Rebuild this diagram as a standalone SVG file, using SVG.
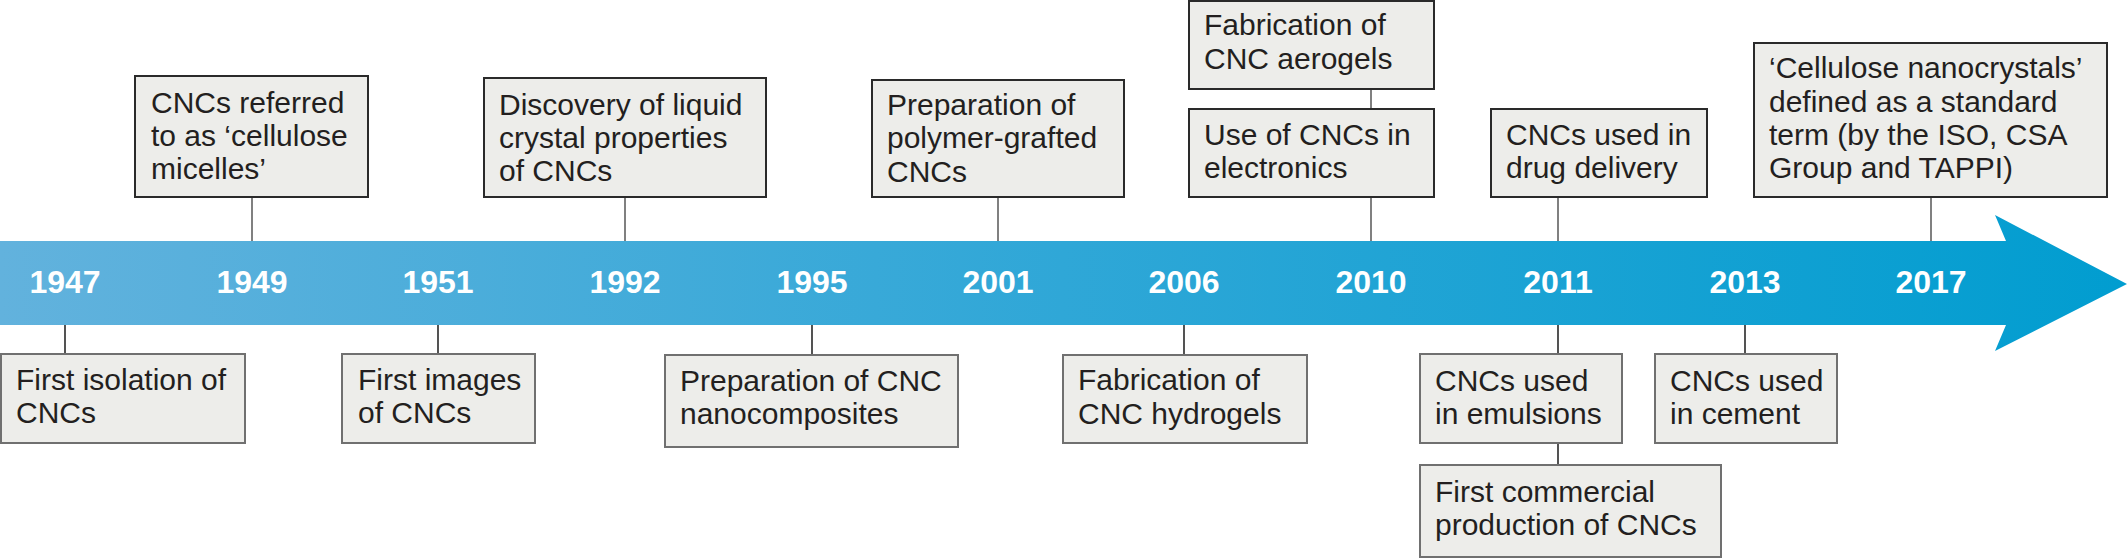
<svg xmlns="http://www.w3.org/2000/svg" width="2127" height="559" viewBox="0 0 2127 559">
<style>
.bt{fill:#ededea;stroke:#2a2a2a;stroke-width:2}
.bb{fill:#ededea;stroke:#707070;stroke-width:2}
.ct{stroke:#808080;stroke-width:2;fill:none}
.cb{stroke:#2a2a2a;stroke-width:1.6;fill:none}
.t{font-family:"Liberation Sans",Arial,sans-serif;font-size:30px;fill:#231f20}
.y{font-family:"Liberation Sans",Arial,sans-serif;font-size:32px;font-weight:bold;fill:#ffffff;text-anchor:middle}
</style>
<defs>
<linearGradient id="g" gradientUnits="userSpaceOnUse" x1="0" y1="0" x2="2127" y2="0">
<stop offset="0" stop-color="#62b2dd"/>
<stop offset="0.5" stop-color="#2fa7d7"/>
<stop offset="1" stop-color="#019dd0"/>
</linearGradient>
</defs>
<g id="timeline-arrow">
<path d="M0,241 H2006 L1995,215 L2127,284 L1995,351 L2006,325 H0 Z" fill="url(#g)"/>
<text class="y" x="65" y="293">1947</text>
<text class="y" x="252" y="293">1949</text>
<text class="y" x="438" y="293">1951</text>
<text class="y" x="625" y="293">1992</text>
<text class="y" x="812" y="293">1995</text>
<text class="y" x="998" y="293">2001</text>
<text class="y" x="1184" y="293">2006</text>
<text class="y" x="1371" y="293">2010</text>
<text class="y" x="1558" y="293">2011</text>
<text class="y" x="1745" y="293">2013</text>
<text class="y" x="1931" y="293">2017</text>
</g>
<g id="connectors">
<path class="ct" d="M252,197V241 M625,197V241 M998,197V241 M1371,89V109 M1371,197V241 M1558,197V241 M1931,197V241"/>
<path class="cb" d="M65,325V354 M438,325V354 M812,325V355 M1184,325V355 M1558,325V354 M1558,443V465 M1745,325V354"/>
</g>
<g id="n1947"><rect class="bb" x="1" y="354" width="244" height="89"/><text class="t" x="16" y="390">First isolation of</text><text class="t" x="16" y="423">CNCs</text></g>
<g id="n1949"><rect class="bt" x="135" y="76" width="233" height="121"/><text class="t" x="151" y="113">CNCs referred</text><text class="t" x="151" y="146">to as ‘cellulose</text><text class="t" x="151" y="179">micelles’</text></g>
<g id="n1951"><rect class="bb" x="342" y="354" width="193" height="89"/><text class="t" x="358" y="390">First images</text><text class="t" x="358" y="423">of CNCs</text></g>
<g id="n1992"><rect class="bt" x="484" y="78" width="282" height="119"/><text class="t" x="499" y="115">Discovery of liquid</text><text class="t" x="499" y="148">crystal properties</text><text class="t" x="499" y="181">of CNCs</text></g>
<g id="n1995"><rect class="bb" x="665" y="355" width="293" height="92"/><text class="t" x="680" y="391">Preparation of CNC</text><text class="t" x="680" y="424">nanocomposites</text></g>
<g id="n2001"><rect class="bt" x="872" y="80" width="252" height="117"/><text class="t" x="887" y="115">Preparation of</text><text class="t" x="887" y="148">polymer-grafted</text><text class="t" x="887" y="182">CNCs</text></g>
<g id="n2006"><rect class="bb" x="1063" y="355" width="244" height="88"/><text class="t" x="1078" y="390">Fabrication of</text><text class="t" x="1078" y="424">CNC hydrogels</text></g>
<g id="n2010a"><rect class="bt" x="1189" y="1" width="245" height="88"/><text class="t" x="1204" y="35">Fabrication of</text><text class="t" x="1204" y="69">CNC aerogels</text></g>
<g id="n2010b"><rect class="bt" x="1189" y="109" width="245" height="88"/><text class="t" x="1204" y="145">Use of CNCs in</text><text class="t" x="1204" y="178">electronics</text></g>
<g id="n2011a"><rect class="bt" x="1491" y="109" width="216" height="88"/><text class="t" x="1506" y="145">CNCs used in</text><text class="t" x="1506" y="178">drug delivery</text></g>
<g id="n2011b"><rect class="bb" x="1420" y="354" width="202" height="89"/><text class="t" x="1435" y="391">CNCs used</text><text class="t" x="1435" y="424">in emulsions</text></g>
<g id="n2011c"><rect class="bb" x="1420" y="465" width="301" height="92"/><text class="t" x="1435" y="502">First commercial</text><text class="t" x="1435" y="535">production of CNCs</text></g>
<g id="n2013"><rect class="bb" x="1655" y="354" width="182" height="89"/><text class="t" x="1670" y="391">CNCs used</text><text class="t" x="1670" y="424">in cement</text></g>
<g id="n2017"><rect class="bt" x="1754" y="43" width="353" height="154"/><text class="t" x="1769" y="78">‘Cellulose nanocrystals’</text><text class="t" x="1769" y="112">defined as a standard</text><text class="t" x="1769" y="145">term (by the ISO, CSA</text><text class="t" x="1769" y="178">Group and TAPPI)</text></g>
</svg>
